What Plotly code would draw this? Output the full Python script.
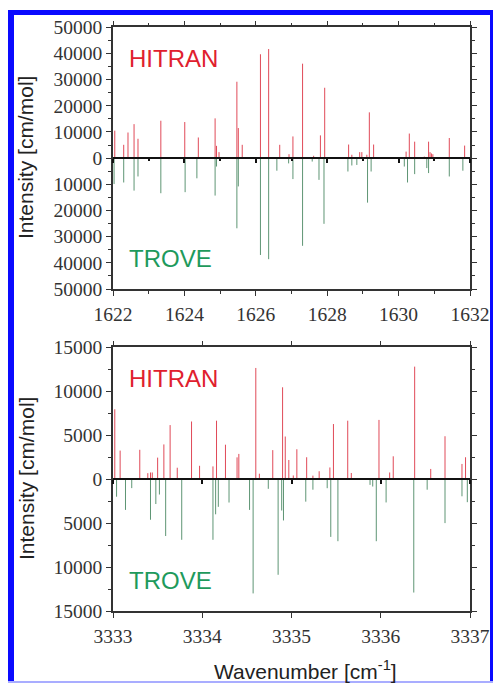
import plotly.graph_objects as go

# ---------------- data ----------------
# Top panel (1622-1632 cm-1)
top_hitran_wn = [1622.05, 1622.30, 1622.42, 1622.59, 1622.70, 1623.34, 1624.01, 1624.39, 1624.86, 1624.90,
                 1624.97, 1625.47, 1625.51, 1625.62, 1626.13, 1626.36, 1626.67, 1626.93, 1627.04, 1627.31,
                 1627.62, 1627.81, 1627.93, 1628.60, 1628.69, 1628.91, 1628.97, 1629.11, 1629.18, 1629.30,
                 1630.21, 1630.30, 1630.45, 1630.72, 1630.84, 1630.88, 1630.92, 1630.96, 1631.42, 1631.85]
top_hitran_int = [10500, 5100, 9800, 13000, 7400, 14300, 13800, 7900, 15200, 4700,
                  2300, 29200, 11500, 5100, 39700, 41700, 5100, 1500, 8300, 36100,
                  900, 8700, 26900, 5200, 1300, 2300, 2300, 1300, 17500, 5200,
                  2500, 9400, 6300, 600, 6300, 2300, 1800, 1500, 7700, 4800]

top_trove_wn = [1622.03, 1622.30, 1622.59, 1622.70, 1623.34, 1624.02, 1624.35, 1624.86, 1624.90, 1625.47,
                1625.51, 1626.13, 1626.36, 1626.59, 1626.92, 1627.04, 1627.31, 1627.58, 1627.77, 1627.91,
                1628.58, 1628.69, 1628.83, 1629.13, 1629.23, 1630.16, 1630.25, 1630.45, 1630.79, 1630.84,
                1631.42, 1631.80]
top_trove_int = [9900, 9300, 12400, 7000, 13400, 13000, 7700, 14300, 3200, 26800,
                 10800, 37000, 38600, 4800, 2000, 8000, 33500, 1300, 8300, 25100,
                 5100, 2800, 2600, 17000, 5100, 3200, 9300, 6100, 3800, 5700,
                 7000, 4800]

# Bottom panel (3333-3337 cm-1)
bot_hitran_wn = [3333.02, 3333.08, 3333.30, 3333.39, 3333.42, 3333.44, 3333.50, 3333.57, 3333.64, 3333.72,
                 3333.88, 3333.97, 3334.12, 3334.16, 3334.26, 3334.39, 3334.41, 3334.60, 3334.64, 3334.79,
                 3334.90, 3334.93, 3334.97, 3335.02, 3335.06, 3335.17, 3335.24, 3335.31, 3335.43, 3335.47,
                 3335.63, 3335.67, 3335.98, 3336.10, 3336.14, 3336.38, 3336.56, 3336.72, 3336.91, 3336.95]
bot_hitran_int = [7950, 3250, 3340, 680, 760, 760, 2450, 3950, 6150, 1300,
                  6560, 1520, 1450, 6650, 3920, 2480, 2870, 12650, 620, 3300,
                  10450, 4850, 2180, 420, 3400, 2490, 400, 900, 1330, 6270,
                  6650, 700, 6740, 760, 2600, 12800, 1160, 4880, 1730, 2490]

bot_trove_wn = [3333.04, 3333.14, 3333.21, 3333.42, 3333.48, 3333.52, 3333.59, 3333.77, 3334.12, 3334.15,
                3334.18, 3334.30, 3334.53, 3334.57, 3334.74, 3334.85, 3334.89, 3334.91, 3335.16, 3335.24,
                3335.40, 3335.44, 3335.52, 3335.88, 3335.91, 3335.95, 3336.06, 3336.37, 3336.52, 3336.72,
                3336.91, 3336.97]
bot_trove_int = [2000, 3500, 1020, 4620, 2830, 1750, 6470, 6900, 6900, 4000,
                 3150, 2660, 3500, 13000, 1100, 10880, 3570, 4700, 2560, 1200,
                 1030, 6570, 7060, 650, 840, 7060, 2650, 12900, 1200, 5000,
                 1950, 2620]

top_x_range = [1622, 1632]
top_y_range = [-50000, 50000]
top_x_ticks = [1622, 1624, 1626, 1628, 1630, 1632]
top_y_ticks = [-50000, -40000, -30000, -20000, -10000, 0, 10000, 20000, 30000, 40000, 50000]
top_y_ticktext = ["50000", "40000", "30000", "20000", "10000", "0", "10000", "20000", "30000", "40000", "50000"]

bot_x_range = [3333, 3337]
bot_y_range = [-15000, 15000]
bot_x_ticks = [3333, 3334, 3335, 3336, 3337]
bot_y_ticks = [-15000, -10000, -5000, 0, 5000, 10000, 15000]
bot_y_ticktext = ["15000", "10000", "5000", "0", "5000", "10000", "15000"]

labels = ["HITRAN", "TROVE"]

# ---------------- styling ----------------
W, H = 493, 683
RED = "#e04a58"
GREEN = "#5e9574"
TXT_RED = "#e0202e"
TXT_GREEN = "#1e9a5c"
AX = "#333333"
SERIF = "Liberation Serif"
SANS = "Liberation Sans"


def px(x):
    return x / W


def py(y):
    return 1 - y / H


def sticks(wn, inten, sign):
    xs, ys = [], []
    for w, v in zip(wn, inten):
        xs += [w, w, None]
        ys += [0, sign * v, None]
    return xs, ys


fig = go.Figure()

for (wn, it, sign, col, xa, ya) in [
    (top_hitran_wn, top_hitran_int, 1, RED, "x", "y"),
    (top_trove_wn, top_trove_int, -1, GREEN, "x", "y"),
    (bot_hitran_wn, bot_hitran_int, 1, RED, "x2", "y2"),
    (bot_trove_wn, bot_trove_int, -1, GREEN, "x2", "y2"),
]:
    xs, ys = sticks(wn, it, sign)
    fig.add_trace(go.Scatter(x=xs, y=ys, mode="lines", line=dict(color=col, width=1),
                             xaxis=xa, yaxis=ya, showlegend=False, hoverinfo="skip"))

# empty traces to activate zero-line axes
fig.add_trace(go.Scatter(x=[None], y=[None], xaxis="x3", yaxis="y", showlegend=False, hoverinfo="skip"))
fig.add_trace(go.Scatter(x=[None], y=[None], xaxis="x4", yaxis="y2", showlegend=False, hoverinfo="skip"))

XD = [px(113), px(470)]
TOP_YD = [py(289), py(27.3)]
BOT_YD = [py(611), py(347.3)]


def zero_pos(dom, rng):
    return dom[0] + (0 - rng[0]) / (rng[1] - rng[0]) * (dom[1] - dom[0])


tickfont = dict(family=SERIF, size=19.5, color=AX)
common_x = dict(showgrid=False, zeroline=False, showline=True, linecolor=AX, linewidth=1.5,
                ticks="outside", ticklen=5, tickwidth=1.2, tickcolor=AX, mirror="ticks",
                tickfont=tickfont, ticklabelstandoff=2, automargin=False)
common_y = dict(showgrid=False, zeroline=False, showline=True, linecolor=AX, linewidth=1.5,
                ticks="outside", ticklen=5, tickwidth=1.2, tickcolor=AX, mirror="ticks",
                tickfont=tickfont, automargin=False)

fig.update_layout(
    width=W, height=H, margin=dict(l=0, r=0, t=0, b=0, pad=0, autoexpand=False),
    paper_bgcolor="white", plot_bgcolor="white",
    xaxis=dict(domain=XD, range=top_x_range, anchor="y", tickvals=top_x_ticks,
               minor=dict(dtick=1, tick0=1622, ticks="outside", ticklen=3, tickcolor=AX), **common_x),
    yaxis=dict(domain=TOP_YD, range=top_y_range, anchor="x", tickvals=top_y_ticks, ticktext=top_y_ticktext,
               minor=dict(dtick=5000, tick0=0, ticks="outside", ticklen=3, tickcolor=AX), **common_y),
    xaxis2=dict(domain=XD, range=bot_x_range, anchor="y2", tickvals=bot_x_ticks, **common_x),
    yaxis2=dict(domain=BOT_YD, range=bot_y_range, anchor="x2", tickvals=bot_y_ticks, ticktext=bot_y_ticktext,
                minor=dict(dtick=2500, tick0=0, ticks="outside", ticklen=3, tickcolor=AX), **common_y),
    xaxis3=dict(overlaying="x", anchor="free", position=zero_pos(TOP_YD, top_y_range), range=top_x_range,
                tickvals=top_x_ticks, showticklabels=False, showgrid=False, zeroline=False, automargin=False,
                showline=True, linecolor="#111111", linewidth=1.5, ticks="outside", ticklen=4,
                tickcolor="#111111", tickwidth=1.5,
                minor=dict(dtick=1, tick0=1622, ticks="outside", ticklen=2, tickcolor="#111111")),
    xaxis4=dict(overlaying="x2", anchor="free", position=zero_pos(BOT_YD, bot_y_range), range=bot_x_range,
                tickvals=bot_x_ticks, showticklabels=False, showgrid=False, zeroline=False, automargin=False,
                showline=True, linecolor="#111111", linewidth=1.5, ticks="outside", ticklen=4,
                tickcolor="#111111", tickwidth=1.5),
)

ann = []
lab_font = 24
for (ytop_c, ybot_c) in [(58, 258), (378.5, 580.5)]:
    ann.append(dict(text=labels[0], x=px(127), y=py(ytop_c), xref="paper", yref="paper",
                    xanchor="left", yanchor="middle", showarrow=False,
                    font=dict(family=SANS, size=lab_font, color=TXT_RED)))
    ann.append(dict(text=labels[1], x=px(127), y=py(ybot_c), xref="paper", yref="paper",
                    xanchor="left", yanchor="middle", showarrow=False,
                    font=dict(family=SANS, size=lab_font, color=TXT_GREEN)))

for yc in [158, 479]:
    ann.append(dict(text="Intensity [cm/mol]", x=px(26), y=py(yc), xref="paper", yref="paper",
                    xanchor="center", yanchor="middle", textangle=-90, showarrow=False,
                    font=dict(family=SANS, size=21, color="#222222")))

ann.append(dict(text="Wavenumber [cm<sup>-1</sup>]", x=px(305), y=py(670), xref="paper", yref="paper",
                xanchor="center", yanchor="middle", showarrow=False,
                font=dict(family=SANS, size=21, color="#222222")))
fig.update_layout(annotations=ann)

BLUE = "#0a0aff"
shapes = [
    dict(type="rect", xref="paper", yref="paper", x0=px(8), x1=px(14), y0=py(683), y1=py(10),
         fillcolor=BLUE, line=dict(width=0)),
    dict(type="rect", xref="paper", yref="paper", x0=px(8), x1=px(493), y0=py(15), y1=py(10),
         fillcolor=BLUE, line=dict(width=0)),
    dict(type="rect", xref="paper", yref="paper", x0=px(490), x1=px(493), y0=py(683), y1=py(10),
         fillcolor=BLUE, line=dict(width=0)),
    dict(type="rect", xref="paper", yref="paper", x0=px(8), x1=px(493), y0=py(683), y1=py(681),
         fillcolor="#a9adff", line=dict(width=0)),
]
fig.update_layout(shapes=shapes)

fig.write_html("out.html")
